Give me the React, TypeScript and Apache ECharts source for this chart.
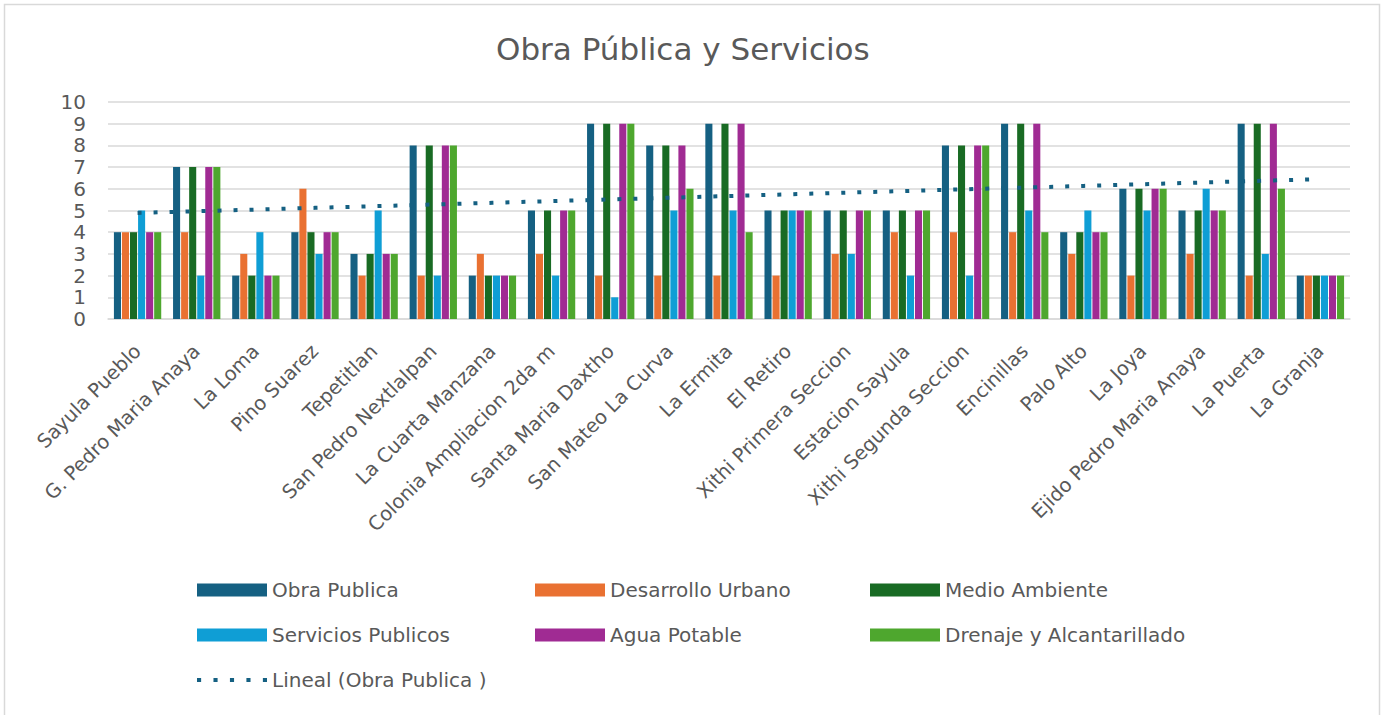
import React, { useEffect, useRef } from "react";
import * as echarts from "echarts";

const categories = [
  "Sayula Pueblo",
  "G. Pedro Maria Anaya",
  "La Loma",
  "Pino Suarez",
  "Tepetitlan",
  "San Pedro Nextlalpan",
  "La Cuarta Manzana",
  "Colonia Ampliacion 2da m",
  "Santa Maria Daxtho",
  "San Mateo La Curva",
  "La Ermita",
  "El Retiro",
  "Xithi Primera Seccion",
  "Estacion Sayula",
  "Xithi Segunda Seccion",
  "Encinillas",
  "Palo Alto",
  "La Joya",
  "Ejido Pedro Maria Anaya",
  "La Puerta",
  "La Granja",
];

const obraPublica = [4, 7, 2, 4, 3, 8, 2, 5, 9, 8, 9, 5, 5, 5, 8, 9, 4, 6, 5, 9, 2];
const desarrolloUrbano = [4, 4, 3, 6, 2, 2, 3, 3, 2, 2, 2, 2, 3, 4, 4, 4, 3, 2, 3, 2, 2];
const medioAmbiente = [4, 7, 2, 4, 3, 8, 2, 5, 9, 8, 9, 5, 5, 5, 8, 9, 4, 6, 5, 9, 2];
const serviciosPublicos = [5, 2, 4, 3, 5, 2, 2, 2, 1, 5, 5, 5, 3, 2, 2, 5, 5, 5, 6, 3, 2];
const aguaPotable = [4, 7, 2, 4, 3, 8, 2, 5, 9, 8, 9, 5, 5, 5, 8, 9, 4, 6, 5, 9, 2];
const drenaje = [4, 7, 2, 4, 3, 8, 2, 5, 9, 6, 4, 5, 5, 5, 8, 4, 4, 6, 5, 6, 2];

const yTicks = [0, 1, 2, 3, 4, 5, 6, 7, 8, 9, 10];

const seriesNames = [
  "Obra Publica",
  "Desarrollo Urbano",
  "Medio Ambiente",
  "Servicios Publicos",
  "Agua Potable",
  "Drenaje y Alcantarillado",
];
const trendName = "Lineal (Obra Publica )";
const colors = ["#156082", "#E97132", "#196B24", "#0F9ED5", "#A02B93", "#4EA72E"];

// Least-squares linear trend of Obra Publica (as Excel's "Lineal" trendline)
function linearTrend(values: number[]): number[] {
  const n = values.length;
  const xs = values.map((_, i) => i + 1);
  const mx = xs.reduce((a, b) => a + b, 0) / n;
  const my = values.reduce((a, b) => a + b, 0) / n;
  let num = 0;
  let den = 0;
  for (let i = 0; i < n; i++) {
    num += (xs[i] - mx) * (values[i] - my);
    den += (xs[i] - mx) * (xs[i] - mx);
  }
  const slope = num / den;
  const intercept = my - slope * mx;
  return xs.map((x) => +(intercept + slope * x).toFixed(4));
}

const FONT = "'DejaVu Sans', 'Open Sans', sans-serif";
const GREY = "#595959";
const DOTS_ICON = "path://M0,0h4v4h-4zM16,0h4v4h-4zM32,0h4v4h-4zM48,0h4v4h-4zM64,0h4v4h-4z";

export default function App() {
  const ref = useRef<HTMLDivElement>(null);

  useEffect(() => {
    document.body.style.margin = "0";
    if (!ref.current) return;
    const chart = echarts.init(ref.current, undefined, { renderer: "svg" });
    const dataSets = [obraPublica, desarrolloUrbano, medioAmbiente, serviciosPublicos, aguaPotable, drenaje];
    const trend = linearTrend(obraPublica);

    const legendText = { color: GREY, fontSize: 20, fontFamily: FONT, lineHeight: 20 };
    const legendBase = {
      orient: "vertical" as const,
      top: 580,
      height: 130,
      padding: 0,
      itemWidth: 70,
      itemHeight: 13,
      itemGap: 25,
      textStyle: legendText,
      selectedMode: false,
    };

    chart.setOption({
      animation: false,
      backgroundColor: "#ffffff",
      title: {
        text: "Obra Pública y Servicios",
        left: 496,
        top: 33,
        padding: 0,
        textStyle: { color: GREY, fontSize: 31, fontWeight: "normal", fontFamily: FONT },
      },
      graphic: [
        {
          type: "rect",
          shape: { x: 4.5, y: 4.5, width: 1375, height: 720 },
          style: { fill: "none", stroke: "#d9d9d9", lineWidth: 1.5 },
          silent: true,
        },
      ],
      legend: [
        {
          ...legendBase,
          left: 197,
          data: [
            { name: seriesNames[0], icon: "rect" },
            { name: seriesNames[3], icon: "rect" },
            { name: trendName, icon: DOTS_ICON, itemStyle: { color: "#156082" } },
          ],
        },
        {
          ...legendBase,
          left: 535,
          data: [
            { name: seriesNames[1], icon: "rect" },
            { name: seriesNames[4], icon: "rect" },
          ],
        },
        {
          ...legendBase,
          left: 870,
          data: [
            { name: seriesNames[2], icon: "rect" },
            { name: seriesNames[5], icon: "rect" },
          ],
        },
      ],
      grid: { left: 108, right: 41, top: 102, bottom: 396, containLabel: false },
      xAxis: {
        type: "category",
        data: categories,
        axisLine: { lineStyle: { color: "#d9d9d9", width: 1.5 } },
        axisTick: { show: false },
        axisLabel: {
          rotate: 45,
          interval: 0,
          margin: 29,
          color: GREY,
          fontSize: 19.5,
          fontFamily: FONT,
        },
      },
      yAxis: {
        type: "value",
        min: yTicks[0],
        max: yTicks[yTicks.length - 1],
        interval: 1,
        axisLine: { show: false },
        axisTick: { show: false },
        splitLine: { lineStyle: { color: "#d9d9d9", width: 1.5 } },
        axisLabel: { color: GREY, fontSize: 20, lineHeight: 21, fontFamily: FONT, margin: 22 },
      },
      series: [
        ...dataSets.map((d, i) => ({
          name: seriesNames[i],
          type: "bar",
          data: d,
          barGap: "14%",
          barCategoryGap: "20%",
          itemStyle: { color: colors[i] },
        })),
        {
          name: trendName,
          type: "line",
          data: trend,
          symbol: "none",
          showSymbol: false,
          z: 5,
          itemStyle: { color: "#156082" },
          lineStyle: { color: "#156082", width: 4, type: [4, 12], cap: "butt" },
        },
      ],
    });
    return () => chart.dispose();
  }, []);

  return <div ref={ref} style={{ width: 1391, height: 715 }} />;
}
